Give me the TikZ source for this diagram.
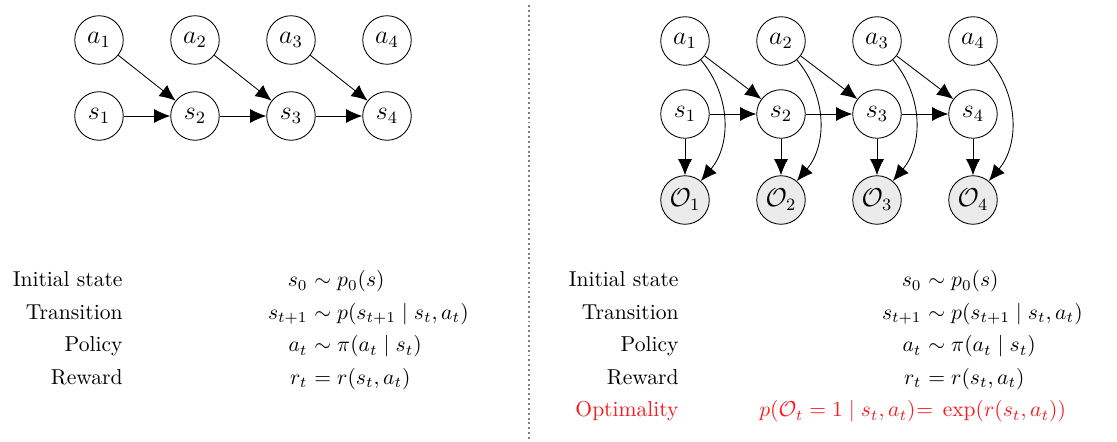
\documentclass[tikz,border=0pt]{standalone}
\usepackage{tikz}
\usepackage{amsmath}
\usepackage{xcolor}
\definecolor{optimal}{rgb}{0.98,0.1,0.12}
\definecolor{observed}{gray}{0.92}
\usetikzlibrary{arrows.meta}

\begin{document}
\begin{tikzpicture}[x=0.4635pt, y=0.4635pt, >={Latex[length=7.5pt,width=6.5pt]},
    var/.style={circle, draw, thin, minimum size=22.5pt, inner sep=0pt, font=\large},
    obs/.style={var, fill=observed},
    lbl/.style={anchor=base east, inner sep=0pt},
    eqn/.style={anchor=base west, inner sep=0pt}]

  \useasboundingbox (0,0) rectangle (1117,-442);

  % MDP graph (left)
  \foreach \i in {1,...,4} {
    \node[var] (la\i) at ({99+96*(\i-1)},-40) {$a_\i$};
    \node[var] (ls\i) at ({99+96*(\i-1)},-116) {$s_\i$};
  }
  \foreach \i/\j in {1/2,2/3,3/4} {
    \draw[->] (ls\i) -- (ls\j);
    \draw[->] (la\i) -- (ls\j);
  }

  % separator
  \coordinate (septop) at (529,-5);
  \coordinate (sepbot) at (529,-440);
  \draw[gray, line width=0.9pt, dash pattern=on 0.9pt off 1.35pt] (septop) -- (sepbot);

  % graph with optimality variables (right)
  \foreach \i in {1,...,4} {
    \node[var] (ra\i) at ({685+96*(\i-1)},-41) {$a_\i$};
    \node[var] (rs\i) at ({685+96*(\i-1)},-114) {$s_\i$};
    \node[obs] (ro\i) at ({685+96*(\i-1)},-200) {$\mathcal{O}_\i$};
  }
  \foreach \i/\j in {1/2,2/3,3/4} {
    \draw[->] (rs\i) -- (rs\j);
    \draw[->] (ra\i) -- (rs\j);
  }
  \foreach \i in {1,...,4} {
    \draw[->] (rs\i) -- (ro\i);
    \draw[->] (ra\i) to[out=-50, in=50] (ro\i);
  }

  % equations (left)
  \node[lbl] (linit) at (123,-287) {Initial state};
  \node[lbl] (ltrans) at (123,-319.5) {Transition};
  \node[lbl] (lpol) at (123,-352) {Policy};
  \node[lbl] (lrew) at (123,-384.5) {Reward};

  \node[lbl] (linitl) at (308,-287) {$s_0$};
  \node[eqn] (linitr) at (308,-287) {${}\sim p_0(s)$};
  \node[lbl] (ltransl) at (308,-319.5) {$s_{t+1}$};
  \node[eqn] (ltransr) at (308,-319.5) {${}\sim p(s_{t+1} \mid s_t, a_t)$};
  \node[lbl] (lpoll) at (308,-352) {$a_t$};
  \node[eqn] (lpolr) at (308,-352) {${}\sim \pi(a_t \mid s_t)$};
  \node[lbl] (lrewl) at (308,-384.5) {$r_t$};
  \node[eqn] (lrewr) at (308,-384.5) {${}= r(s_t, a_t)$};

  % equations (right)
  \node[lbl] (rinit) at (679,-287) {Initial state};
  \node[lbl] (rtrans) at (679,-319.5) {Transition};
  \node[lbl] (rpol) at (679,-352) {Policy};
  \node[lbl] (rrew) at (679,-384.5) {Reward};
  \node[lbl, text=optimal] (ropt) at (679,-417) {Optimality};

  \node[lbl] (rinitl) at (922,-287) {$s_0$};
  \node[eqn] (rinitr) at (922,-287) {${}\sim p_0(s)$};
  \node[lbl] (rtransl) at (922,-319.5) {$s_{t+1}$};
  \node[eqn] (rtransr) at (922,-319.5) {${}\sim p(s_{t+1} \mid s_t, a_t)$};
  \node[lbl] (rpoll) at (922,-352) {$a_t$};
  \node[eqn] (rpolr) at (922,-352) {${}\sim \pi(a_t \mid s_t)$};
  \node[lbl] (rrewl) at (922,-384.5) {$r_t$};
  \node[eqn] (rrewr) at (922,-384.5) {${}= r(s_t, a_t)$};
  \node[lbl, text=optimal] (roptl) at (916,-417) {$p(\mathcal{O}_t = 1 \mid s_t, a_t)$};
  \node[eqn, text=optimal] (roptr) at (916,-417) {$\mathord{=}\;\exp(r(s_t, a_t))$};

\end{tikzpicture}
\end{document}
